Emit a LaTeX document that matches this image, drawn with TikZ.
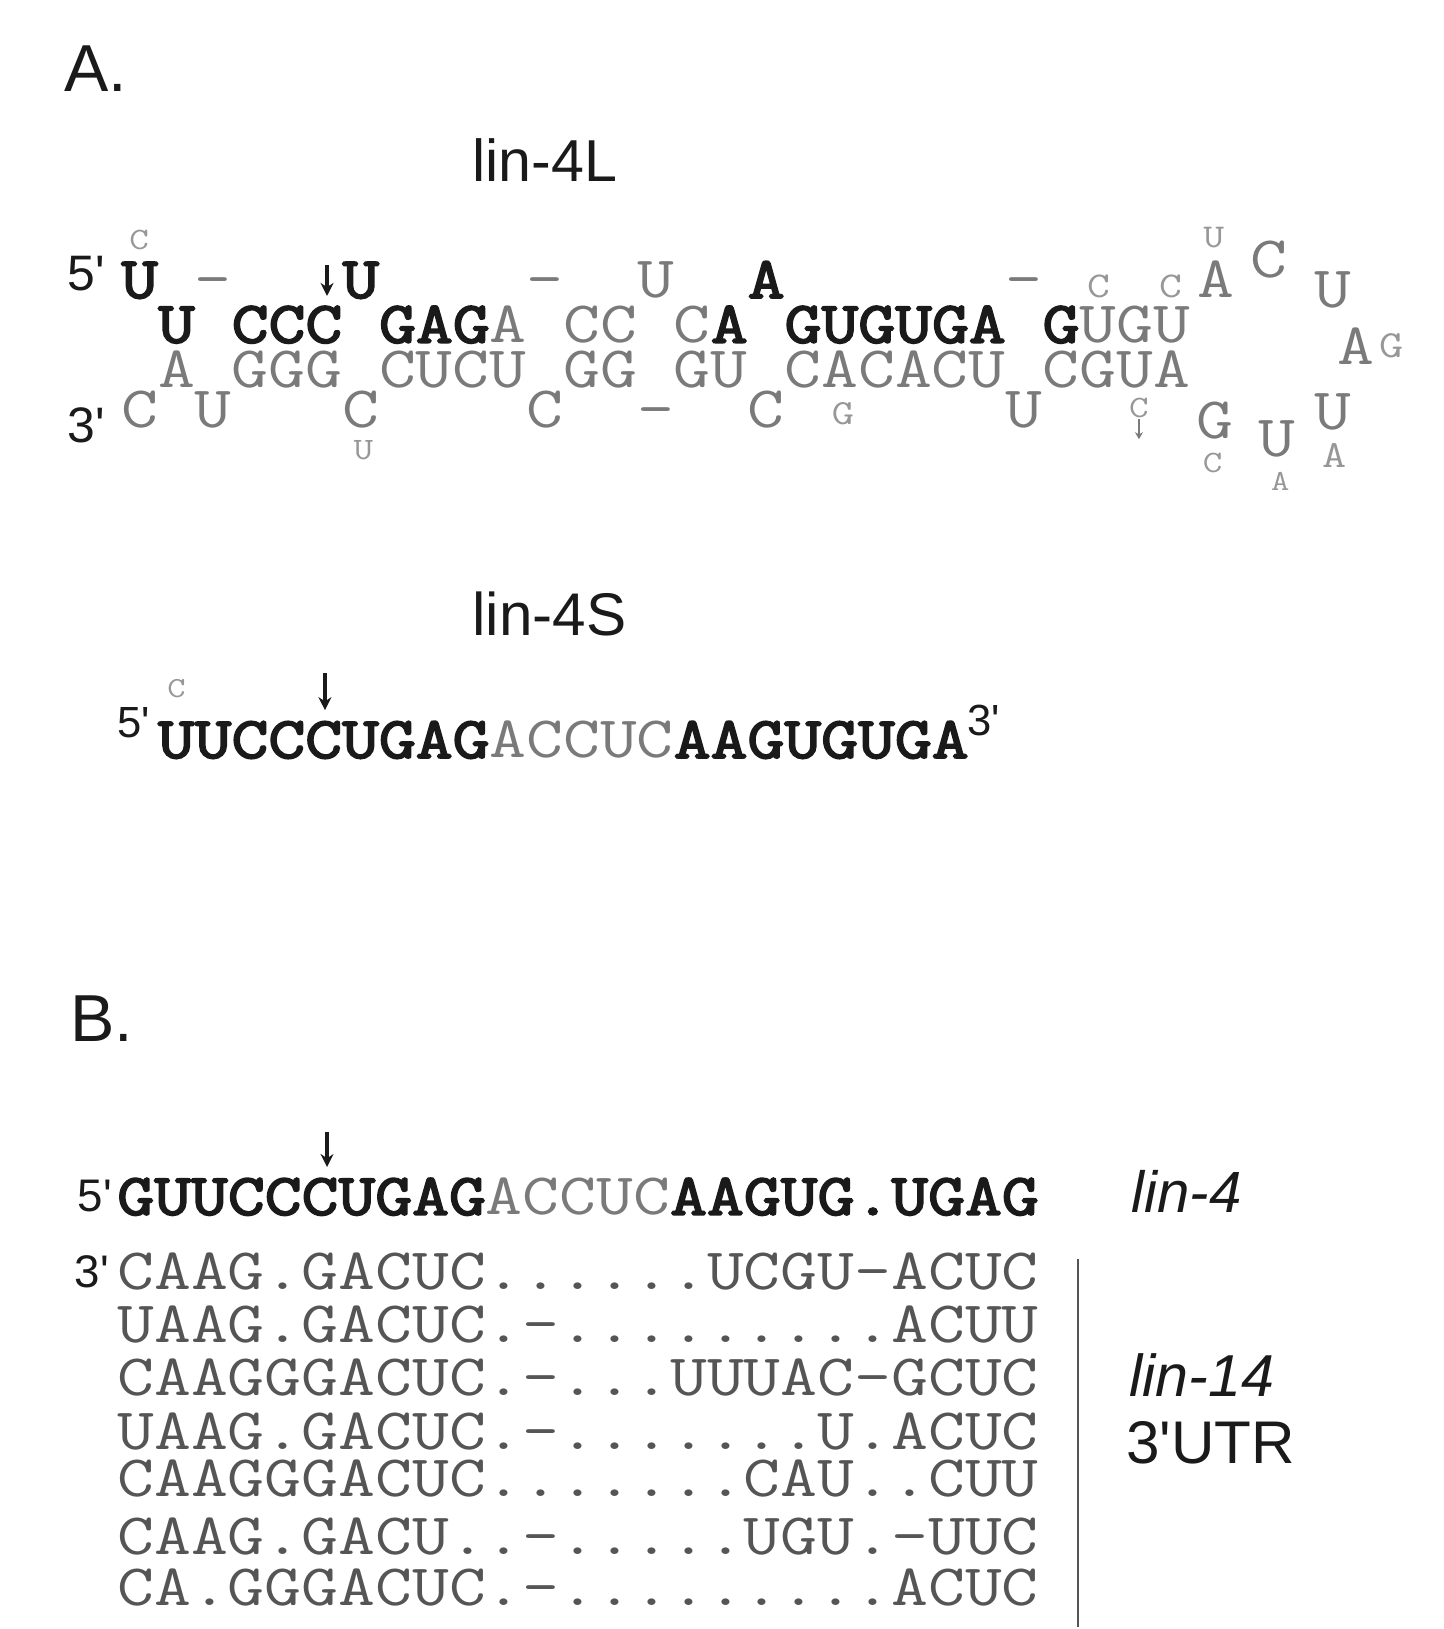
\documentclass[tikz,border=0pt]{standalone}
\usepackage{fontspec}
\newfontfamily\cour{Latin Modern Mono}[Ligatures=TeXOff,FakeStretch=1.22]
\newfontfamily\courB{Latin Modern Mono}[Ligatures=TeXOff,FakeStretch=1.22,FakeBold=3.2]
\newfontfamily\helv{Liberation Sans}[Ligatures=TeXOff]
\usetikzlibrary{arrows.meta}
\definecolor{ink}{HTML}{1A1A1A}
\definecolor{pale}{HTML}{7A7A7A}
\definecolor{paler}{HTML}{979797}
\definecolor{rowgray}{HTML}{555555}
\newcommand\setfs[1]{\pgfmathsetlengthmacro\myfsz{#1*1.0384pt}\fontsize{\myfsz}{\myfsz}\selectfont}
\newcommand\bseq[1]{{\courB\color{ink}#1}}
\newcommand\gseq[1]{{\color{pale}#1}}
\begin{document}
\begin{tikzpicture}[x=1.0384pt,y=-1.0384pt,
  mono/.style={inner sep=0pt,outer sep=0pt,font=\cour\setfs{56.5}},
  bk/.style={inner sep=0pt,outer sep=0pt,text=ink,font=\courB\setfs{56.5},anchor=base},
  gy/.style={inner sep=0pt,outer sep=0pt,text=pale,font=\cour\setfs{56.5},anchor=base},
  sm/.style={inner sep=0pt,outer sep=0pt,text=paler,font=\cour\setfs{#1},anchor=base},
  lbl/.style={inner sep=0pt,outer sep=0pt,text=ink,font=\helv\setfs{#1},anchor=base west},
  ital/.style={inner sep=0pt,outer sep=0pt,text=ink,font=\helv\itshape\setfs{#1},anchor=base west},
  tip/.style={-{Stealth[length=13pt,width=13pt]},line width=3.6pt,draw=ink},
  smalltip/.style={-{Stealth[length=7pt,width=8pt]},line width=2pt,draw=pale}]
\fill[white] (0,0) rectangle (1390,1569);
\useasboundingbox (0,0) rectangle (1390,1569);

% ---------- Panel A ----------
\node[lbl=64] (labA) at (62,88) {A.};
\node[lbl=57] (lin4L) at (455,175) {lin-4L};

\node[lbl=48] (fiveL) at (65,280) {5'};
\node[lbl=48] (threeL) at (65,426) {3'};

% row 1 (top unpaired)
\node[sm=30] (c0) at (134,240) {C};
\node[bk] (r1a) at (134.5,287) {U};
\node[gy] (r1b) at (205.5,287) {-};
\coordinate (ar1s) at (315,255);
\coordinate (ar1e) at (315,285);
\draw[tip] (ar1s) -- (ar1e);
\node[bk] (r1c) at (347.5,287) {U};
\node[gy] (r1d) at (525,287) {-};
\node[gy] (r1e) at (631.5,287) {U};
\node[bk] (r1f) at (738,287) {A};
\node[gy] (r1g) at (986.5,287) {-};
\node[sm=35] (r1h) at (1058,287) {C};
\node[sm=35] (r1i) at (1128,287) {C};

% row 2 (lin-4 strand)
\node[mono,anchor=base west] (r2) at (152.25,330)
  {\bseq{U~CCC~GAG}\gseq{A~CC~C}\bseq{A~GUGUGA~G}\gseq{UGU}};
% row 3 (complementary strand)
\node[mono,text=pale,anchor=base west] (r3) at (152.25,373) {A~GGG~CUCU~GG~GU~CACACU~CGUA};

% row 4 (bottom unpaired)
\node[gy] (r4a) at (134.5,412) {C};
\node[gy] (r4b) at (205.5,412) {U};
\node[gy] (r4c) at (347.5,412) {C};
\node[sm=30] (r4cu) at (350,443) {U};
\node[gy] (r4d) at (525,412) {C};
\node[gy] (r4e) at (631.5,412) {-};
\node[gy] (r4f) at (738,412) {C};
\node[sm=34] (r4g) at (812,409) {G};
\node[gy] (r4h) at (986.5,412) {U};
\node[sm=30] (r4i) at (1097,402) {C};
\coordinate (ar2s) at (1097,404);
\coordinate (ar2e) at (1097,423);
\draw[smalltip] (ar2s) -- (ar2e);

% loop
\node[sm=32] (lu) at (1169,238) {U};
\node[gy] (l1) at (1171,287) {A};
\node[gy] (l2) at (1222,267) {C};
\node[gy] (l3) at (1284,296) {U};
\node[gy] (l4) at (1306,351) {A};
\node[sm=37] (l4g) at (1340,344) {G};
\node[gy] (l5) at (1284,414) {U};
\node[sm=37] (l5a) at (1285,450) {A};
\node[gy] (l6) at (1230,440) {U};
\node[sm=28] (l6a) at (1233,472) {A};
\node[gy] (l7) at (1170,422) {G};
\node[sm=30] (l7c) at (1168,455) {C};

% lin-4S
\node[lbl=58] (lin4S) at (455,612) {lin-4S};
\node[lbl=42] (fiveS) at (113,710) {5'};
\node[sm=28] (sC) at (170,672) {C};
\coordinate (ar3s) at (313,648);
\coordinate (ar3e) at (313,684);
\draw[tip] (ar3s) -- (ar3e);
\node[mono,anchor=base west] (seqS) at (152,730)
  {\bseq{UUCCCUGAG}\gseq{ACCUC}\bseq{AAGUGUGA}};
\node[lbl=42] (threeS) at (932,708) {3'};

% ---------- Panel B ----------
\node[lbl=64] (labB) at (68,1003) {B.};
\coordinate (ar4s) at (315,1090);
\coordinate (ar4e) at (315,1124);
\draw[tip] (ar4s) -- (ar4e);
\node[lbl=44] (fiveB) at (75,1167) {5'};
\node[mono,anchor=base west] (seqB) at (113,1170)
  {\bseq{GUUCCCUGAG}\gseq{ACCUC}\bseq{AAGUG.UGAG}};
\node[ital=56] (lin4) at (1090,1168) {lin-4};

\node[lbl=44] (threeB) at (72,1240) {3'};
\node[mono,text=rowgray,anchor=base west] (t1) at (113,1242) {CAAG.GACUC......UCGU-ACUC};
\node[mono,text=rowgray,anchor=base west] (t2) at (113,1293) {UAAG.GACUC.-.........ACUU};
\node[mono,text=rowgray,anchor=base west] (t3) at (113,1344) {CAAGGGACUC.-...UUUAC-GCUC};
\node[mono,text=rowgray,anchor=base west] (t4) at (113,1396) {UAAG.GACUC.-.......U.ACUC};
\node[mono,text=rowgray,anchor=base west] (t5) at (113,1441) {CAAGGGACUC.......CAU..CUU};
\node[mono,text=rowgray,anchor=base west] (t6) at (113,1497) {CAAG.GACU..-.....UGU.-UUC};
\node[mono,text=rowgray,anchor=base west] (t7) at (113,1546) {CA.GGGACUC.-.........ACUC};

\coordinate (vtop) at (1038,1213);
\coordinate (vbot) at (1038,1567);
\draw[line width=2pt,draw=rowgray] (vtop) -- (vbot);
\node[ital=57] (lin14) at (1088,1345) {lin-14};
\node[lbl=58] (utr) at (1085,1410) {3'UTR};
\end{tikzpicture}
\end{document}
